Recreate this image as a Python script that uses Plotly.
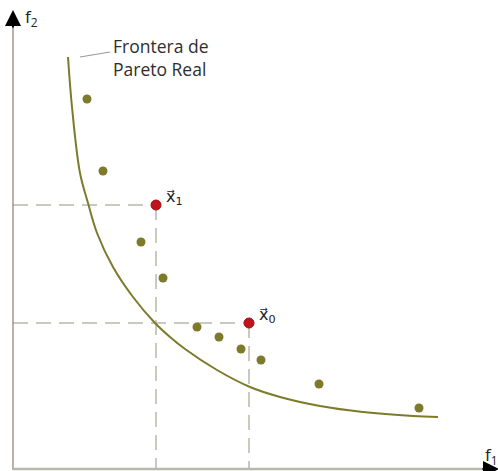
import plotly.graph_objects as go

# Objective-space coordinates (f1, f2), origin at the axes corner
front_f1 = [55, 59, 67, 75, 84, 100, 120, 142, 157, 172, 204, 237, 267, 307, 350, 400, 425]
front_f2 = [412, 362, 296, 266, 236, 202, 172, 146, 132, 120, 99, 82, 72, 63, 57, 53, 52]

sol_f1 = [74, 90, 128, 150, 184, 206, 228, 248, 306, 406]
sol_f2 = [370, 298, 227, 191, 142, 132, 120, 109, 85, 61]

sel_names = ["x1", "x0"]
sel_labels = ["x\u20d7<sub>1</sub>", "x\u20d7<sub>0</sub>"]
sel_f1 = [143, 236]
sel_f2 = [264, 146]

olive = "#7d7a2c"
red = "#c3121a"
dash_col = "#c9c9c1"

fig = go.Figure()

# dashed projections of the selected solutions onto both axes
shapes = []
for fx, fy in zip(sel_f1, sel_f2):
    shapes.append(dict(type="line", x0=0, y0=fy, x1=fx, y1=fy, layer="below",
                       line=dict(color=dash_col, width=2, dash="15px,8px")))
    shapes.append(dict(type="line", x0=fx, y0=fy, x1=fx, y1=0, layer="below",
                       line=dict(color=dash_col, width=2, dash="15px,8px")))

# axes
shapes.append(dict(type="line", x0=0, y0=-1, x1=0, y1=448, layer="below",
                   line=dict(color="#8a7e79", width=1.2)))
shapes.append(dict(type="line", x0=0, y0=0, x1=475, y1=0, layer="below",
                   line=dict(color="#b9b9a9", width=2.5)))
# leader line for the front label
shapes.append(dict(type="line", x0=67, y0=412, x1=97, y1=417,
                   line=dict(color="#9a9a9a", width=1.2)))

fig.add_trace(go.Scatter(x=front_f1, y=front_f2, mode="lines",
                         line=dict(color=olive, width=2, shape="spline", smoothing=1.0),
                         hoverinfo="skip", showlegend=False))
fig.add_trace(go.Scatter(x=sol_f1, y=sol_f2, mode="markers",
                         marker=dict(color=olive, size=9),
                         showlegend=False))
fig.add_trace(go.Scatter(x=sel_f1, y=sel_f2, mode="markers",
                         marker=dict(color=red, size=10, line=dict(color="#9a1015", width=1)),
                         text=sel_names, showlegend=False))

annotations = [
    # arrowheads of the axes
    dict(x=0, y=459, ax=0, ay=440, xref="x", yref="y", axref="x", ayref="y",
         showarrow=True, arrowhead=2, arrowsize=1.6, arrowwidth=2, arrowcolor="#000000", text=""),
    dict(x=486, y=0, ax=468, ay=0, xref="x", yref="y", axref="x", ayref="y",
         showarrow=True, arrowhead=2, arrowsize=1.6, arrowwidth=2, arrowcolor="#000000", text=""),
    dict(x=10, y=452, xref="x", yref="y", text="f<sub>2</sub>", showarrow=False,
         xanchor="left", yanchor="middle", font=dict(size=17, color="#222222")),
    dict(x=470, y=14, xref="x", yref="y", text="f<sub>1</sub>", showarrow=False,
         xanchor="left", yanchor="middle", font=dict(size=17, color="#222222")),
    dict(x=98, y=412, xref="x", yref="y", text="Frontera de<br>Pareto Real", showarrow=False,
         xanchor="left", yanchor="middle", align="left",
         font=dict(size=17.5, color="#2e2e2e", family="Open Sans")),
]
for lab, fx, fy in zip(sel_labels, sel_f1, sel_f2):
    annotations.append(dict(x=fx + 8, y=fy + 8, xref="x", yref="y", text=lab, showarrow=False,
                            xanchor="left", yanchor="middle",
                            font=dict(size=16, color="#222222", family="DejaVu Sans")))

fig.update_layout(
    width=498, height=471,
    margin=dict(l=0, r=0, t=0, b=0),
    paper_bgcolor="white", plot_bgcolor="white",
    xaxis=dict(range=[-13, 485], visible=False, fixedrange=True),
    yaxis=dict(range=[-2, 469], visible=False, fixedrange=True),
    shapes=shapes, annotations=annotations,
)

fig.write_html("out.html")
